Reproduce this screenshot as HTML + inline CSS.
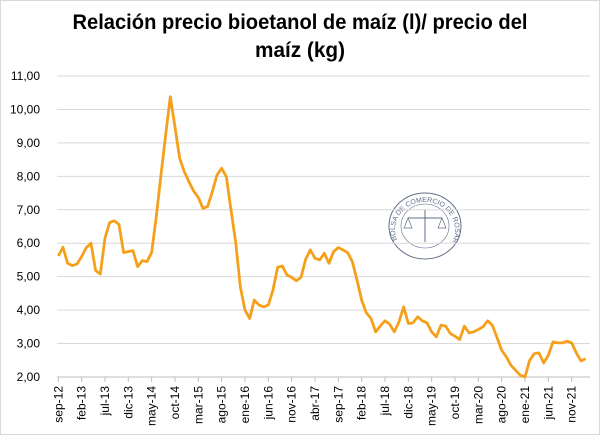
<!DOCTYPE html>
<html><head><meta charset="utf-8"><style>
body{margin:0;background:#fff;}
svg{display:block;font-family:"Liberation Sans",sans-serif;}
</style></head><body>
<svg id="chart" width="600" height="435" xmlns="http://www.w3.org/2000/svg">
<rect x="0.5" y="0.5" width="599" height="434" fill="#fff" stroke="#d9d9d9"/>
<text x="300" y="29" text-anchor="middle" font-size="21" font-weight="bold" textLength="455" lengthAdjust="spacingAndGlyphs">Relación precio bioetanol de maíz (l)/ precio del</text>
<text x="300" y="57" text-anchor="middle" font-size="21" font-weight="bold" textLength="90" lengthAdjust="spacingAndGlyphs">maíz (kg)</text>
<g opacity="0.8">
<ellipse cx="425" cy="226" rx="36" ry="33" fill="none" stroke="#3a4a6b" stroke-width="1"/>
<ellipse cx="425" cy="226" rx="24" ry="22" fill="none" stroke="#3a4a6b" stroke-width="0.6"/>
<path id="logoarc" d="M397,240 A30,28 0 1,1 453,240" fill="none"/>
<text font-size="7" fill="#3a4a6b"><textPath href="#logoarc">BOLSA DE COMERCIO DE ROSARIO</textPath></text>
<line x1="408" y1="218" x2="442" y2="218" stroke="#3a4a6b"/>
<line x1="425" y1="210" x2="425" y2="242" stroke="#3a4a6b"/>
<path d="M408,218 l-4,10 h8 z M442,218 l-4,10 h8 z" fill="none" stroke="#3a4a6b" stroke-width="0.7"/>
</g>
<g id="grid"></g><g id="yticks"></g><g id="xticks"></g><g id="series"></g>
</svg>
<script>
const months=["ene","feb","mar","abr","may","jun","jul","ago","sep","oct","nov","dic"];
const startMonth=8, startYear=12;
const yTicks=[2,3,4,5,6,7,8,9,10,11];
const ratio=[5.62,5.88,5.40,5.33,5.38,5.60,5.87,6.00,5.18,5.08,6.15,6.62,6.67,6.56,5.72,5.75,5.78,5.30,5.48,5.45,5.72,6.80,8.04,9.24,10.38,9.48,8.54,8.14,7.84,7.56,7.37,7.04,7.10,7.54,8.04,8.24,7.99,7.00,6.04,4.70,4.00,3.75,4.30,4.15,4.10,4.15,4.60,5.28,5.32,5.05,4.98,4.88,4.98,5.52,5.80,5.55,5.50,5.70,5.40,5.75,5.87,5.80,5.72,5.45,4.90,4.30,3.92,3.75,3.35,3.53,3.68,3.58,3.35,3.65,4.10,3.60,3.62,3.80,3.68,3.62,3.35,3.20,3.55,3.52,3.30,3.22,3.12,3.52,3.32,3.35,3.42,3.50,3.68,3.55,3.18,2.80,2.60,2.35,2.20,2.05,2.00,2.50,2.70,2.72,2.42,2.65,3.05,3.02,3.02,3.07,3.02,2.72,2.48,2.55];
const NS="http://www.w3.org/2000/svg";
const X0=58.3, DX=4.667, Y0=377, DY=33.44;
const xs=i=>X0+i*DX;
const ys=v=>Y0-(v-2)*DY;
function mk(t,a,p){const e=document.createElementNS(NS,t);for(const k in a)e.setAttribute(k,a[k]);p.appendChild(e);return e;}
const grid=document.getElementById('grid'),yt=document.getElementById('yticks'),xt=document.getElementById('xticks'),se=document.getElementById('series');
yTicks.forEach(v=>{
 const l=mk('line',{x1:57,x2:590,y1:ys(v),y2:ys(v),stroke:v===2?'#bfbfbf':'#d9d9d9','stroke-width':1},grid);
 
 
 const t=mk('text',{x:40,y:ys(v)+4,'text-anchor':'end','font-size':12,fill:'#000'},yt);
 t.textContent=v.toFixed(2).replace('.',',');
 
 
});
for(let i=0;i<ratio.length;i+=5){
 const mi=(startMonth+i)%12, yr=startYear+Math.floor((startMonth+i)/12);
 const x=xs(i);
 const tk=mk('line',{x1:x,x2:x,y1:377,y2:382,stroke:'#bfbfbf'},xt);
 
 
 const t=mk('text',{x:0,y:0,'text-anchor':'end','font-size':12,transform:`translate(${x+4},386) rotate(-90)`},xt);
 t.textContent=months[mi]+'-'+yr;
 
 
}
const p=mk('polyline',{points:ratio.map((v,i)=>xs(i)+','+ys(v)).join(' '),fill:'none',stroke:'#f5a01a','stroke-width':2.8,'stroke-linejoin':'round'},se);


</script>
</body></html>
